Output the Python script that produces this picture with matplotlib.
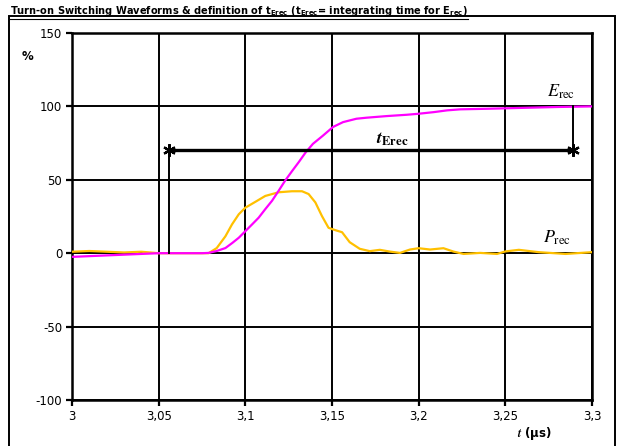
import matplotlib
matplotlib.use('Agg')
import matplotlib.pyplot as plt
from matplotlib.patches import Rectangle

plt.rcParams['font.family'] = ['DejaVu Sans']
plt.rcParams['mathtext.fontset'] = 'stix'
plt.rcParams['axes.unicode_minus'] = False

# E_rec (cumulative energy, %)
t_e = [3.0, 3.02, 3.04, 3.05, 3.06, 3.07, 3.075, 3.0788, 3.0835, 3.0885, 3.0925,
       3.0962, 3.1, 3.1038, 3.1077, 3.1115, 3.1154, 3.1192, 3.123, 3.127, 3.1308,
       3.1347, 3.139, 3.1447, 3.1506, 3.1564, 3.1641, 3.1699, 3.1815, 3.1931,
       3.2, 3.2087, 3.2164, 3.224, 3.24, 3.26, 3.28, 3.3]
e_rec = [-2.5, -1.5, -0.5, 0, 0, 0, 0, 0.2, 1.5, 3.5, 7,
         10.5, 15, 19.5, 24.2, 30, 35.7, 42.5, 49.5, 56, 62,
         68.5, 74.5, 80, 86, 89.3, 91.6, 92.3, 93.4, 94.3,
         95, 96.1, 97.3, 98, 98.4, 99, 99.6, 100]

# P_rec (power, %)
t_p = [3.0, 3.01, 3.02, 3.03, 3.04, 3.05, 3.06, 3.07, 3.0788, 3.0835, 3.0885,
       3.0923, 3.0962, 3.1, 3.1058, 3.1115, 3.1192, 3.1269, 3.1327, 3.1365,
       3.1404, 3.1442, 3.148, 3.1519, 3.1558, 3.1602, 3.166, 3.1718, 3.1776,
       3.1834, 3.1892, 3.195, 3.2, 3.2066, 3.2143, 3.2201, 3.2259, 3.2355,
       3.2452, 3.25, 3.2578, 3.2693, 3.2847, 3.3]
p_rec = [1, 1.5, 1, 0.5, 1, 0, 0, 0, 0, 3.5, 11.5,
         19.6, 26.5, 31, 35, 39, 41.5, 42.2, 42.2, 40.3,
         34.6, 25.3, 17.3, 15.7, 14.3, 7.5, 3, 1.4, 2.3,
         1.1, 0.2, 2.5, 3.4, 2.5, 3.4, 1.1, -0.5, 0.2,
         -0.5, 1.2, 2.3, 0.7, -0.5, 0.7]

# t_Erec interval
t_start, t_end = 3.056, 3.289
y_arrow = 70

x_ticks = [3.0, 3.05, 3.1, 3.15, 3.2, 3.25, 3.3]
x_labels = ['3', '3,05', '3,1', '3,15', '3,2', '3,25', '3,3']
y_ticks = [-100, -50, 0, 50, 100, 150]

fig = plt.figure(figsize=(6.22, 4.46), dpi=100)
ax = fig.add_axes([72 / 622, 46 / 446, 520 / 622, 367 / 446])

ax.plot(t_e, e_rec, color='#FF00FF', lw=1.6, zorder=4, solid_joinstyle='round')
ax.plot(t_p, p_rec, color='#FFC000', lw=1.6, zorder=3, solid_joinstyle='round')

# t_Erec markers
ax.plot([t_start, t_end], [y_arrow, y_arrow], color='black', lw=2.4, zorder=5)
ax.plot([t_start, t_start], [0, y_arrow], color='black', lw=1.4, zorder=5)
ax.plot([t_end, t_end], [y_arrow, 100], color='black', lw=1.4, zorder=5)
ax.plot([t_start, t_end], [y_arrow, y_arrow], ls='none', marker=(6, 2, 0),
        ms=9, mew=1.6, color='black', zorder=6)

ax.text(3.185, 71.5, r'$\boldsymbol{t}_{\mathbf{Erec}}$', fontsize=13,
        ha='center', va='bottom', zorder=7)
ax.text(3.282, 104, r'$E_{\rm rec}$', fontsize=13, ha='center', va='bottom')
ax.text(3.28, 4, r'$P_{\rm rec}$', fontsize=13, ha='center', va='bottom')

ax.set_xlim(3.0, 3.3)
ax.set_ylim(-100, 150)
ax.set_xticks(x_ticks)
ax.set_xticklabels(x_labels)
ax.set_yticks(y_ticks)
ax.tick_params(axis='both', labelsize=8.5, direction='out', length=4,
               width=1.6, pad=3)
ax.grid(True, color='black', lw=1.4)
ax.set_axisbelow(True)
for s in ax.spines.values():
    s.set_linewidth(1.8)

fig.text(28 / 622, 1 - 56 / 446, '%', fontsize=8.5, fontweight='bold',
         ha='center', va='center')
fig.text(534 / 622, 1 - 433 / 446, r'$\boldsymbol{t}$ (µs)', fontsize=8.5,
         fontweight='bold', ha='center', va='center')

title = fig.text(10 / 622, 1 - 11 / 446,
                 r'Turn-on Switching Waveforms & definition of $\mathbf{t_{Erec}}$ '
                 r'($\mathbf{t_{Erec}}$= integrating time for $\mathbf{E_{rec}}$)',
                 fontsize=7.1, fontweight='bold', ha='left', va='center',
                 math_fontfamily='dejavusans')

# outer frame
fig.add_artist(Rectangle((9 / 622, -0.05), 606 / 622, 1.05 - 16 / 446,
                         transform=fig.transFigure, fill=False,
                         edgecolor='black', lw=1.4, clip_on=False))

# underline title
fig.canvas.draw()
bb = title.get_window_extent().transformed(fig.transFigure.inverted())
fig.add_artist(plt.Line2D([bb.x0, bb.x1], [bb.y0 - 0.002, bb.y0 - 0.002],
                          transform=fig.transFigure, color='black', lw=0.8))

fig.savefig('out.png', dpi=100)
